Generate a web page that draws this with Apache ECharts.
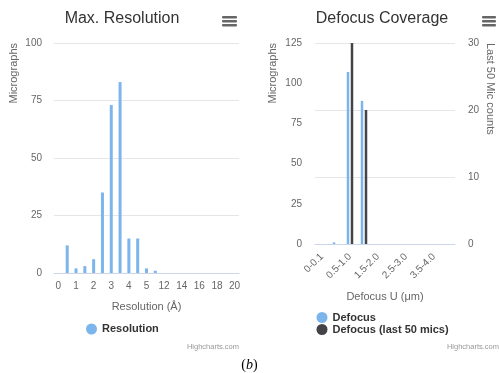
<!DOCTYPE html>
<html>
<head>
<meta charset="utf-8">
<script src="https://cdn.jsdelivr.net/npm/echarts@6/dist/echarts.min.js"></script>
<style>
html,body{margin:0;padding:0;background:#fff;}
#c{width:499px;height:373px;}
</style>
</head>
<body>
<div id="c"></div>
<script>
// ---- data ----
var resCategories = ['0','0.5','1','1.5','2','2.5','3','3.5','4','4.5','5','5.5','12','13','14','15','16','17','18','19','20'];
var resValues = [0,12,2,3,6,35,73,83,15,15,2,1,0,0,0,0,0,0,0,0,0];
var resTicks = [0,25,50,75,100];

var defCategories = ['0-0.1','0.1-0.5','0.5-1.0','1.0-1.5','1.5-2.0','2.0-2.5','2.5-3.0','3.0-3.5','3.5-4.0','4.0-4.5'];
var defValues = [0,1,107,89,0,0,0,0,0,0];
var defLast50 = [0,0,30,20,0,0,0,0,0,0];
var defLeftTicks = [0,25,50,75,100,125];
var defRightTicks = [0,10,20,30];

var FONT = '"Liberation Sans", Arial, Helvetica, sans-serif';
var LBL = {color:'#666666', fontSize:10, fontFamily:FONT};
var NAME = {color:'#666666', fontSize:11, fontFamily:FONT};

function menuIcon(x, w) {
  return {
    type:'group', x:x, y:16,
    children:[0,4,8].map(function(dy){
      return {type:'rect', shape:{x:0,y:dy,width:w,height:2.4,r:1}, style:{fill:'#666666'}};
    })
  };
}

var chart = echarts.init(document.getElementById('c'), null, {renderer:'canvas'});
chart.setOption({
  animation:false,
  backgroundColor:'#ffffff',
  title:[
    {text:'Max. Resolution', left:122, top:11, padding:0, textAlign:'center',
     textStyle:{color:'#333333', fontSize:16, fontWeight:'normal', fontFamily:FONT}},
    {text:'Defocus Coverage', left:382, top:11, padding:0, textAlign:'center',
     textStyle:{color:'#333333', fontSize:16, fontWeight:'normal', fontFamily:FONT}}
  ],
  legend:[
    {data:['Resolution'], left:86, top:323.5, padding:0, icon:'circle', itemWidth:11, itemHeight:11,
     textStyle:{color:'#333333', fontSize:11, fontWeight:'bold', fontFamily:FONT}},
    {data:['Defocus','Defocus (last 50 mics)'], orient:'vertical', left:316.5, top:312, padding:0,
     icon:'circle', itemWidth:11, itemHeight:11, itemGap:1, align:'left',
     textStyle:{color:'#333333', fontSize:11, fontWeight:'bold', fontFamily:FONT, lineHeight:11}}
  ],
  grid:[
    {left:54, right:260, top:43, bottom:100},
    {left:315, right:44, top:43, bottom:129}
  ],
  xAxis:[
    {type:'category', gridIndex:0, data:resCategories, boundaryGap:true,
     name:'Resolution (Å)', nameLocation:'middle', nameGap:28, nameTextStyle:NAME,
     axisLine:{lineStyle:{color:'#ccd6eb'}}, axisTick:{show:false},
     axisLabel:Object.assign({interval:1, margin:8}, LBL)},
    {type:'category', gridIndex:1, data:defCategories, boundaryGap:true,
     name:'Defocus U (μm)', nameLocation:'middle', nameGap:47, nameTextStyle:NAME,
     axisLine:{lineStyle:{color:'#ccd6eb'}}, axisTick:{show:false},
     axisLabel:Object.assign({interval:1, rotate:45, margin:11}, LBL)}
  ],
  yAxis:[
    {type:'value', gridIndex:0, min:resTicks[0], max:resTicks[resTicks.length-1], interval:25,
     axisLine:{show:false}, axisTick:{show:false},
     splitLine:{lineStyle:{color:'#e6e6e6'}},
     axisLabel:Object.assign({margin:12}, LBL)},
    {type:'value', gridIndex:1, min:defLeftTicks[0], max:defLeftTicks[defLeftTicks.length-1], interval:25,
     axisLine:{show:false}, axisTick:{show:false}, splitLine:{show:false},
     axisLabel:Object.assign({margin:13}, LBL)},
    {type:'value', gridIndex:1, position:'right', min:defRightTicks[0], max:defRightTicks[defRightTicks.length-1], interval:10,
     axisLine:{show:false}, axisTick:{show:false},
     splitLine:{lineStyle:{color:'#e6e6e6'}},
     axisLabel:Object.assign({margin:13}, LBL)}
  ],
  series:[
    {name:'Resolution', type:'bar', xAxisIndex:0, yAxisIndex:0, data:resValues,
     barWidth:3, itemStyle:{color:'#7cb5ec'}},
    {name:'Defocus', type:'bar', xAxisIndex:1, yAxisIndex:1, data:defValues,
     barWidth:2.5, barGap:'60%', itemStyle:{color:'#7cb5ec'}},
    {name:'Defocus (last 50 mics)', type:'bar', xAxisIndex:1, yAxisIndex:2, data:defLast50,
     barWidth:2.5, barGap:'60%', itemStyle:{color:'#434348'}}
  ],
  graphic:[
    {type:'text', x:14, y:43, rotation:Math.PI/2,
     style:{text:'Micrographs', fill:'#666666', font:'11px '+FONT, textAlign:'right', textVerticalAlign:'middle'}},
    {type:'text', x:273, y:43, rotation:Math.PI/2,
     style:{text:'Micrographs', fill:'#666666', font:'11px '+FONT, textAlign:'right', textVerticalAlign:'middle'}},
    {type:'text', x:490, y:43, rotation:-Math.PI/2,
     style:{text:'Last 50 Mic counts', fill:'#666666', font:'11px '+FONT, textAlign:'left', textVerticalAlign:'middle'}},
    {type:'text', x:239, y:347,
     style:{text:'Highcharts.com', fill:'#999999', font:'7.5px '+FONT, textAlign:'right', textVerticalAlign:'middle'}},
    {type:'text', x:499, y:347,
     style:{text:'Highcharts.com', fill:'#999999', font:'7.5px '+FONT, textAlign:'right', textVerticalAlign:'middle'}},
    {type:'text', x:249.5, y:365,
     style:{text:'{n|(}{i|b}{n|)}', textAlign:'center', textVerticalAlign:'middle',
       rich:{n:{fontFamily:'"Liberation Serif", "Times New Roman", serif', fontSize:14, fill:'#000000'},
             i:{fontFamily:'"Liberation Serif", "Times New Roman", serif', fontSize:14, fontStyle:'italic', fill:'#000000'}}}},
    menuIcon(222, 15),
    menuIcon(482, 14)
  ]
});
</script>
</body>
</html>
